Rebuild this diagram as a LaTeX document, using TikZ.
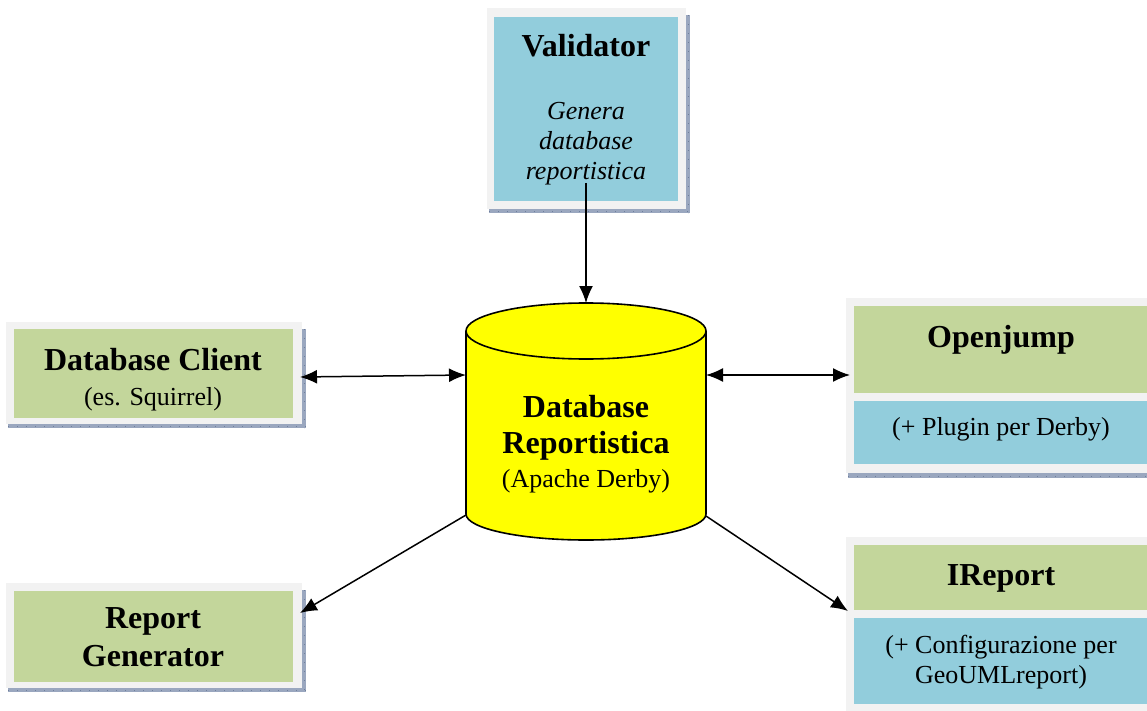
\documentclass[tikz,border=0pt]{standalone}
\usepackage{fontspec}
\setmainfont{Liberation Serif}
\usetikzlibrary{arrows.meta,calc}
\definecolor{frameg}{HTML}{F2F2F2}
\definecolor{boxgreen}{HTML}{C3D69B}
\definecolor{boxblue}{HTML}{92CDDC}
\definecolor{shadowc}{HTML}{9AA7BF}
\definecolor{shadowd}{HTML}{6F7F9C}
\definecolor{dbyellow}{HTML}{FFFF00}
\tikzset{
  framebox/.style={fill=frameg, draw=none, inner sep=0pt, outer sep=0pt, anchor=north west},
  greenbox/.style={fill=boxgreen, draw=none, inner sep=0pt, outer sep=0pt, anchor=north west},
  bluebox/.style={fill=boxblue, draw=none, inner sep=0pt, outer sep=0pt, anchor=north west},
  shadowfill/.style={fill=shadowc, draw=none},
  shadowtick/.style={draw=shadowd, line width=0.8pt, dash pattern=on 1pt off 8pt},
  titletxt/.style={anchor=base, inner sep=0pt, font=\fontsize{32}{37}\selectfont\bfseries},
  bodytxt/.style={anchor=base, inner sep=0pt, font=\fontsize{26}{30}\selectfont},
  itxt/.style={anchor=base, inner sep=0pt, font=\fontsize{26}{30}\selectfont\itshape},
  conn/.style={line width=1.5pt, -{Latex[length=17pt,width=14pt]}},
  biconn/.style={line width=1.5pt, {Latex[length=17pt,width=14pt]}-{Latex[length=17pt,width=14pt]}},
  cyl/.style={line width=1.6pt, draw=black},
}
\begin{document}
\begin{tikzpicture}[x=1pt,y=-1pt]
\useasboundingbox (0,0) rectangle (1147,711);
\fill[white] (0,0) rectangle (1147,711);

% ---------- shadows ----------
\fill[shadowfill] (489,15) rectangle (690,213);
\fill[shadowfill] (8,329) rectangle (306,428);
\fill[shadowfill] (848,305) rectangle (1147,478);
\fill[shadowfill] (8,590) rectangle (306,692);
\draw[shadowtick] (489,211) -- (690,211);
\draw[shadowtick] (688,15) -- (688,213);
\draw[shadowtick] (8,426) -- (306,426);
\draw[shadowtick] (304,329) -- (304,428);
\draw[shadowtick] (848,476) -- (1147,476);
\draw[shadowtick] (8,690) -- (306,690);
\draw[shadowtick] (304,590) -- (304,692);

% ---------- Validator ----------
\node[framebox, minimum width=199pt, minimum height=201pt] (valF) at (487,8) {};
\node[bluebox, minimum width=184pt, minimum height=184pt] (valB) at (494,17) {};
\node[titletxt] (valT) at (586,57) {Validator};
\node[itxt] (valL1) at (586,120) {Genera};
\node[itxt] (valL2) at (586,150) {database};
\node[itxt] (valL3) at (586,180) {reportistica};

% ---------- Database Client ----------
\node[framebox, minimum width=296pt, minimum height=102pt] (dbcF) at (6,322) {};
\node[greenbox, minimum width=279pt, minimum height=89pt] (dbcG) at (14,329) {};
\node[titletxt] (dbcT) at (153,370) {Database Client};
\node[bodytxt] (dbcS) at (153,405) {(es. Squirrel)};

% ---------- Openjump ----------
\node[framebox, minimum width=301pt, minimum height=175pt] (ojF) at (846,298) {};
\node[greenbox, minimum width=293pt, minimum height=87pt] (ojG) at (854,306) {};
\node[bluebox, minimum width=293pt, minimum height=63pt] (ojB) at (854,401) {};
\node[titletxt] (ojT) at (1001,347) {Openjump};
\node[bodytxt] (ojS) at (1001,435) {(+ Plugin per Derby)};

% ---------- IReport ----------
\node[framebox, minimum width=301pt, minimum height=174pt] (irF) at (846,537) {};
\node[greenbox, minimum width=293pt, minimum height=65pt] (irG) at (854,545) {};
\node[bluebox, minimum width=293pt, minimum height=86pt] (irB) at (854,618) {};
\node[titletxt] (irT) at (1001,585) {IReport};
\node[bodytxt] (irS1) at (1001,653) {(+ Configurazione per};
\node[bodytxt] (irS2) at (1001,683) {GeoUMLreport)};

% ---------- Report Generator ----------
\node[framebox, minimum width=296pt, minimum height=105pt] (rgF) at (6,583) {};
\node[greenbox, minimum width=279pt, minimum height=91pt] (rgG) at (14,591) {};
\node[titletxt] (rgT1) at (153,628) {Report};
\node[titletxt] (rgT2) at (153,666) {Generator};

% ---------- Database cylinder ----------
\fill[dbyellow] (466,331) -- (466,514) arc[start angle=180, end angle=0, x radius=120, y radius=26] -- (706,331) -- cycle;
\fill[dbyellow] (586,331) ellipse [x radius=120, y radius=28];
\draw[cyl] (466,331) -- (466,514) arc[start angle=180, end angle=0, x radius=120, y radius=26] -- (706,331);
\draw[cyl] (586,331) ellipse [x radius=120, y radius=28];
\node[titletxt] (dbT1) at (586,417) {Database};
\node[titletxt] (dbT2) at (586,453) {Reportistica};
\node[bodytxt] (dbS) at (586,487) {(Apache Derby)};

\coordinate (dbTop) at (586,303);
\coordinate (dbL) at (466,375);
\coordinate (dbR) at (706,375);
\coordinate (dbBL) at (466,515);
\coordinate (dbBR) at (706,516);
\coordinate (valOut) at (586,183);
\coordinate (dbcIn) at (300,377);
\coordinate (ojIn) at (850,375);
\coordinate (rgIn) at (300,613);
\coordinate (irIn) at (848,611);

% ---------- connectors ----------
\draw[conn] (valOut) -- (dbTop);
\draw[biconn] (dbcIn) -- (dbL);
\draw[biconn] (dbR) -- (ojIn);
\draw[conn] (dbBL) -- (rgIn);
\draw[conn] (dbBR) -- (irIn);
\end{tikzpicture}
\end{document}
